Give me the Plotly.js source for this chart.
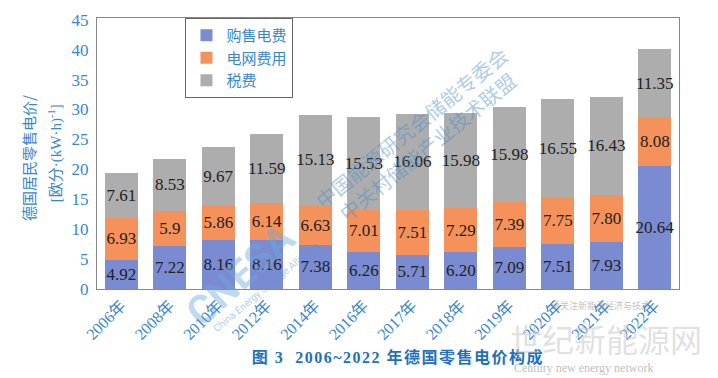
<!DOCTYPE html>
<html>
<head>
<meta charset="utf-8">
<script src="https://cdn.plot.ly/plotly-3.0.1.min.js"></script>
<style>
html,body{margin:0;padding:0;background:#fff;}
#chart{width:718px;height:378px;}
#chart .gtitle{letter-spacing:1.5px;}
</style>
</head>
<body>
<div id="chart"></div>
<script>
const years = ['2006年','2008年','2010年','2012年','2014年','2016年','2017年','2018年','2019年','2020年','2021年','2022年'];
const purchase = ['4.92','7.22','8.16','8.16','7.38','6.26','5.71','6.20','7.09','7.51','7.93','20.64'];
const grid = ['6.93','5.9','5.86','6.14','6.63','7.01','7.51','7.29','7.39','7.75','7.80','8.08'];
const taxes = ['7.61','8.53','9.67','11.59','15.13','15.53','16.06','15.98','15.98','16.55','16.43','11.35'];
const seriesNames = ['购售电费','电网费用','税费'];
const seriesColors = ['#7a8bd1','#f5915b','#adadad'];

const serif = 'Liberation Serif, Noto Sans CJK SC, serif';
const blue = '#3a86cc';

const seriesData = [purchase, grid, taxes];
const traces = seriesData.map((vals, i) => ({
  type: 'bar',
  name: seriesNames[i],
  x: years,
  y: vals,
  text: vals,
  texttemplate: '%{text}',
  textposition: 'inside',
  insidetextanchor: 'middle',
  textangle: 0,
  constraintext: 'none',
  textfont: {family: serif, size: 17, color: '#222'},
  marker: {color: seriesColors[i], line: {width: 0}},
  hoverinfo: 'skip'
}));

const wm = 'rgba(70,140,205,0.45)';
const layout = {
  width: 718, height: 378,
  margin: {l: 97, r: 39, t: 18, b: 89},
  barmode: 'stack',
  bargap: 0.32,
  paper_bgcolor: '#fff',
  plot_bgcolor: '#fff',
  showlegend: true,
  legend: {
    x: 0.152, y: 1, xanchor: 'left', yanchor: 'top',
    bgcolor: '#fff', bordercolor: '#666', borderwidth: 1,
    font: {family: 'Noto Sans CJK SC, sans-serif', size: 15, color: blue},
    traceorder: 'normal'
  },
  title: {
    text: '<b>图 3  2006~2022 年德国零售电价构成</b>',
    x: 0.517, xanchor: 'center', xref: 'paper',
    y: 0.055, yanchor: 'middle', yref: 'container',
    font: {family: serif, size: 16, color: '#1f70bd'}
  },
  xaxis: {
    type: 'category',
    tickangle: -45,
    tickfont: {family: serif, size: 16, color: blue},
    showline: true, linecolor: '#888', linewidth: 1, mirror: true,
    ticks: '', showgrid: false, zeroline: false
  },
  yaxis: {
    range: [0, 45.3],
    tickvals: [0,5,10,15,20,25,30,35,40,45],
    tickfont: {family: serif, size: 17, color: blue},
    showline: true, linecolor: '#888', linewidth: 1, mirror: true,
    ticks: '', showgrid: false, zeroline: false,
    ticklabelstandoff: 4
  },
  annotations: [
    {text: '德国居民零售电价/', xref: 'paper', yref: 'paper', x: -0.118, y: 0.485, xanchor: 'center', yanchor: 'middle',
     textangle: -90, showarrow: false, font: {family: 'Noto Sans CJK SC, sans-serif', size: 15, color: blue}},
    {text: '[欧分·(kW·h)<sup>-1</sup>]', xref: 'paper', yref: 'paper', x: -0.071, y: 0.50, xanchor: 'center', yanchor: 'middle',
     textangle: -90, showarrow: false, font: {family: serif, size: 15, color: blue}},
    // watermarks
    {text: '<b>CNESA</b>', xref: 'paper', yref: 'paper', x: (240-97)/582, y: (289-275)/271, xanchor: 'center', yanchor: 'middle',
     textangle: -42, showarrow: false, font: {family: 'Roboto, sans-serif', size: 40, color: 'rgba(110,170,220,0.45)'}},
    {text: 'China Energy Storage Alliance', xref: 'paper', yref: 'paper', x: (265-97)/582, y: (289-287)/271, xanchor: 'center', yanchor: 'middle',
     textangle: -40, showarrow: false, font: {family: 'Roboto, sans-serif', size: 10, color: 'rgba(90,150,210,0.5)'}},
    {text: '中国能源研究会储能专委会', xref: 'paper', yref: 'paper', x: (411-97)/582, y: (289-127)/271, xanchor: 'center', yanchor: 'middle',
     textangle: -39, showarrow: false, font: {family: 'Noto Sans CJK SC, sans-serif', size: 20, color: wm}},
    {text: '中关村储能产业技术联盟', xref: 'paper', yref: 'paper', x: (427-97)/582, y: (289-146)/271, xanchor: 'center', yanchor: 'middle',
     textangle: -39, showarrow: false, font: {family: 'Noto Sans CJK SC, sans-serif', size: 20, color: wm}},
    {text: '请关注新能源经济与技术', xref: 'paper', yref: 'paper', x: (600-97)/582, y: (289-305)/271, xanchor: 'center', yanchor: 'middle',
     showarrow: false, font: {family: 'Noto Sans CJK SC, sans-serif', size: 9, color: 'rgba(150,150,150,0.6)'}},
    {text: '世纪新能源网', xref: 'paper', yref: 'paper', x: (606-97)/582, y: (289-338)/271, xanchor: 'center', yanchor: 'middle',
     showarrow: false, font: {family: 'Noto Sans CJK SC, sans-serif', size: 32, color: 'rgba(200,200,200,0.55)'}},
    {text: 'Century new energy network', xref: 'paper', yref: 'paper', x: (583-97)/582, y: (289-368)/271, xanchor: 'center', yanchor: 'middle',
     showarrow: false, font: {family: 'Liberation Serif, serif', size: 12, color: 'rgba(160,160,160,0.7)'}}
  ]
};

Plotly.newPlot('chart', traces, layout, {displayModeBar: false, staticPlot: true});
</script>
</body>
</html>
